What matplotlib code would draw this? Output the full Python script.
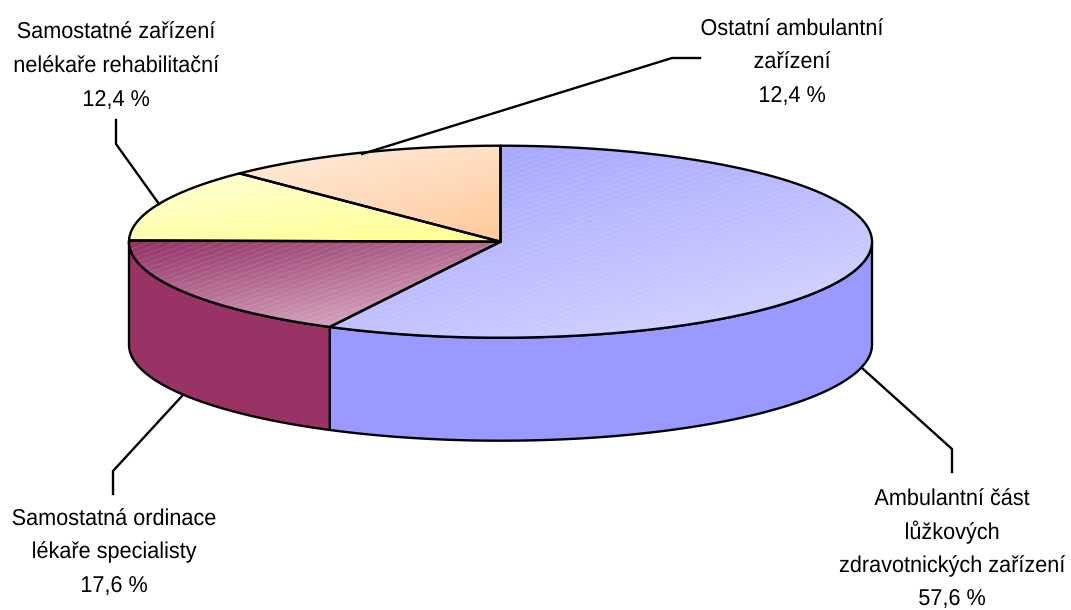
import numpy as np
import matplotlib
matplotlib.use("Agg")
import matplotlib.pyplot as plt
from matplotlib.patches import Polygon
from matplotlib.patheffects import AbstractPathEffect
from matplotlib.transforms import Affine2D

categories = ["Ambulantní část lůžkových zdravotnických zařízení",
              "Samostatná ordinace lékaře specialisty",
              "Samostatné zařízení nelékaře rehabilitační",
              "Ostatní ambulantní zařízení"]
values = [57.6, 17.6, 12.4, 12.4]
label_lines = [["Ambulantní část", "lůžkových", "zdravotnických zařízení", "57,6 %"],
               ["Samostatná ordinace", "lékaře specialisty", "17,6 %"],
               ["Samostatné zařízení", "nelékaře rehabilitační", "12,4 %"],
               ["Ostatní ambulantní", "zařízení", "12,4 %"]]
label_x = [952, 114, 116, 792]
label_baselines = [[505, 539, 572, 605], [525, 558, 592], [38, 72, 106], [35, 68, 102]]
leaders = [[(862, 368), (952, 449), (952, 472)],
           [(182, 396), (113, 471), (113, 494)],
           [(159, 204), (116, 144), (116, 120)],
           [(362, 154), (672, 58), (700, 58)]]
side_colors = ["#9999ff", "#993366", "#ffffcc", "#ffcc99"]
grad_start = [(160, 160, 255), (146, 48, 100), (255, 255, 215), (255, 238, 224)]
grad_end = [(218, 218, 255), (228, 190, 210), (255, 255, 140), (255, 200, 150)]

W, H = 1071, 610
cx, cy, rx, ry, depth = 500.5, 241.7, 371.5, 96.0, 103.0
font_name = "Liberation Sans"
font_pt = 16.5
squeeze = 0.945


class Squeeze(AbstractPathEffect):
    """Narrows the glyphs horizontally about a fixed pixel column."""

    def __init__(self, xc, sx):
        super().__init__()
        self.xc, self.sx = xc, sx

    def draw_path(self, renderer, gc, tpath, affine, rgbFace=None):
        t = affine + Affine2D().translate(-self.xc, 0).scale(self.sx, 1).translate(self.xc, 0)
        renderer.draw_path(gc, tpath, t, rgbFace)


fig = plt.figure(figsize=(W / 100, H / 100), dpi=100, facecolor="white")
ax = fig.add_axes([0, 0, 1, 1])
ax.set_xlim(0, W)
ax.set_ylim(H, 0)
ax.axis("off")


def rim(t0, t1, n=200):
    t = np.radians(np.linspace(t0, t1, n))
    return np.column_stack([cx + rx * np.cos(t), cy - ry * np.sin(t)])


edges = 90 - np.concatenate([[0], np.cumsum(values)]) * 3.6
LW = 1.7

for i in range(len(values)):
    a, b = max(edges[i], -180), min(edges[i + 1], 0)
    a, b = min(a, 0), max(b, -180)
    if a <= b:
        continue
    top = rim(a, b)
    wall = np.vstack([top, top[::-1] + [0, depth]])
    ax.add_patch(Polygon(wall, closed=True, fc=side_colors[i], ec="black", lw=LW, joinstyle="round", zorder=2))

yy, xx = np.mgrid[0:H, 0:W]
for i in range(len(values)):
    pts = np.vstack([[cx, cy], rim(edges[i], edges[i + 1])])
    x0, y0, x1, y1 = pts[:, 0].min(), pts[:, 1].min(), pts[:, 0].max(), pts[:, 1].max()
    u = ((xx - x0) / (x1 - x0) * 0.62 + (yy - y0) / (y1 - y0) * 0.9) / 1.52
    u = np.clip(u, 0, 1)[..., None]
    rgb = np.array(grad_start[i]) * (1 - u) + np.array(grad_end[i]) * u
    stripe = (np.mod(yy + xx * 0.36, 5.0) < 1.0)[..., None]
    rgb = rgb * (1 - 0.10 * stripe) + 255 * 0.10 * stripe
    poly = Polygon(pts, closed=True, fc="none", ec="none", zorder=3)
    ax.add_patch(poly)
    im = ax.imshow(rgb.astype(np.uint8), extent=(0, W, H, 0), interpolation="bilinear", zorder=3, aspect="auto")
    im.set_clip_path(poly)
    ax.add_patch(Polygon(pts, closed=True, fc="none", ec="black", lw=LW, joinstyle="round", zorder=4))

ax.set_xlim(0, W)
ax.set_ylim(H, 0)

for path, lines, x, bases in zip(leaders, label_lines, label_x, label_baselines):
    p = np.array(path)
    ax.plot(p[:, 0], p[:, 1], color="black", lw=LW, zorder=5, solid_joinstyle="round")
    for s, y in zip(lines, bases):
        ax.text(x, y, s, ha="center", va="baseline", fontsize=font_pt, color="black",
                family=font_name, zorder=6, path_effects=[Squeeze(x, squeeze)])

fig.savefig("out.png", dpi=100, facecolor="white")
